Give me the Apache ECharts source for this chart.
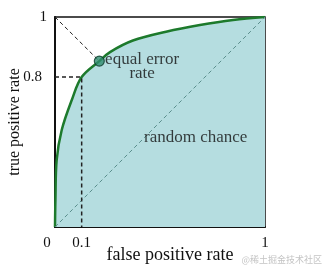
<!DOCTYPE html>
<html>
<head>
<meta charset="utf-8">
<script src="https://cdn.jsdelivr.net/npm/echarts@6/dist/echarts.min.js"></script>
<style>
html,body{margin:0;padding:0;background:#fff;}
#c{width:332px;height:275px;}
</style>
</head>
<body>
<div id="c"></div>
<script>
// ROC curve (schematic): false positive rate vs true positive rate
var fpr = [0, 0.002, 0.008, 0.032, 0.080, 0.127, 0.211, 0.262, 0.371, 0.529, 0.690, 0.848, 1];
var tpr = [0, 0.129, 0.319, 0.462, 0.605, 0.714, 0.790, 0.833, 0.888, 0.930, 0.962, 0.986, 1];
var randomX = [0, 1];
var randomY = [0, 1];
var eerPoint = [0.211, 0.790];
var eerGuideX = [0, 0.211];
var eerGuideY = [1, 0.790];
var opPointX = [0, 0.127, 0.127];
var opPointY = [0.714, 0.714, 0];
var xTickValues = [0, 0.127, 1];
var xTickLabels = ['0', '0.1', '1'];
var yTickValues = [0.714, 1];
var yTickLabels = ['0.8', '1'];
var annoText = ['equal error\nrate', 'random chance'];
var annoX = [0.415, 0.67];
var annoY = [0.765, 0.424];
var xName = 'false positive rate';
var yName = 'true positive rate';
var watermark = '@稀土掘金技术社区';

function zip(a, b) { return a.map(function (v, i) { return [v, b[i]]; }); }
var serif = "'Liberation Serif', 'DejaVu Serif', serif";

var chart = echarts.init(document.getElementById('c'), null, {renderer: 'canvas'});
chart.setOption({
  animation: false,
  backgroundColor: '#fff',
  grid: {left: 55, right: 67, top: 17, bottom: 48, show: true, borderColor: '#111', borderWidth: 1.5,
         containLabel: false, outerBoundsMode: 'none'},
  xAxis: {
    type: 'value', min: 0, max: 1,
    name: xName, nameLocation: 'middle', nameGap: 19, nameMoveOverlap: false,
    nameTextStyle: {fontFamily: serif, fontSize: 18, color: '#111', padding: [0, 0, 0, 20]},
    axisLine: {show: true, lineStyle: {color: '#111', width: 2}},
    axisTick: {show: false},
    splitLine: {show: false},
    axisLabel: {
      customValues: xTickValues,
      margin: 9,
      fontFamily: serif, fontSize: 15, color: '#111',
      formatter: function (v) {
        var i = xTickValues.indexOf(v);
        var t = i >= 0 ? xTickLabels[i] : '';
        return v === 0 ? '{z|' + t + '}' : t;
      },
      rich: {z: {fontFamily: serif, fontSize: 15, color: '#111', padding: [0, 16, 0, 0]}}
    }
  },
  yAxis: {
    type: 'value', min: 0, max: 1,
    name: yName, nameLocation: 'middle', nameGap: 32, nameMoveOverlap: false,
    nameTextStyle: {fontFamily: serif, fontSize: 16, color: '#111'},
    axisLine: {show: true, lineStyle: {color: '#111', width: 2}},
    axisTick: {show: false},
    splitLine: {show: false},
    axisLabel: {
      customValues: yTickValues,
      margin: 8,
      fontFamily: serif, fontSize: 15, color: '#111',
      formatter: function (v) {
        var i = yTickValues.indexOf(v);
        var t = i >= 0 ? yTickLabels[i] : '';
        return v === 1 ? t : '{p|' + t + '}';
      },
      rich: {p: {fontFamily: serif, fontSize: 15, color: '#111', padding: [0, 5, 0, 0]}}
    }
  },
  series: [
    {
      type: 'line', data: zip(fpr, tpr), smooth: 0.35,
      showSymbol: false, z: 2,
      lineStyle: {color: '#1d7a2c', width: 2.5},
      areaStyle: {color: '#b5dde0', opacity: 1, origin: 'start'}
    },
    {
      type: 'line', data: zip(randomX, randomY), showSymbol: false, z: 3,
      lineStyle: {color: '#5b8e8c', width: 1, type: [4, 3]}
    },
    {
      type: 'line', data: zip(eerGuideX, eerGuideY), showSymbol: false, z: 3,
      lineStyle: {color: '#222', width: 1, type: [4, 3]}
    },
    {
      type: 'line', data: zip(opPointX, opPointY), showSymbol: false, z: 3,
      lineStyle: {color: '#222', width: 1.5, type: [4, 3]}
    },
    {
      type: 'scatter', data: [eerPoint], symbolSize: 10, z: 5,
      itemStyle: {color: '#2f8c6f', borderColor: '#0d3b2b', borderWidth: 1.2}
    },
    {
      type: 'scatter', symbolSize: 0, z: 6, silent: true,
      data: annoText.map(function (t, i) { return {value: [annoX[i], annoY[i]], name: t}; }),
      label: {
        show: true, position: 'inside', formatter: '{b}',
        fontFamily: serif, fontSize: 17, lineHeight: 14, color: '#111', align: 'center'
      }
    }
  ],
  graphic: [{
    type: 'text', right: 10, top: 255,
    style: {text: watermark, fontSize: 9, fill: '#c4c4c4', fontFamily: "'Noto Sans CJK SC', sans-serif"}
  }]
});
</script>
</body>
</html>
